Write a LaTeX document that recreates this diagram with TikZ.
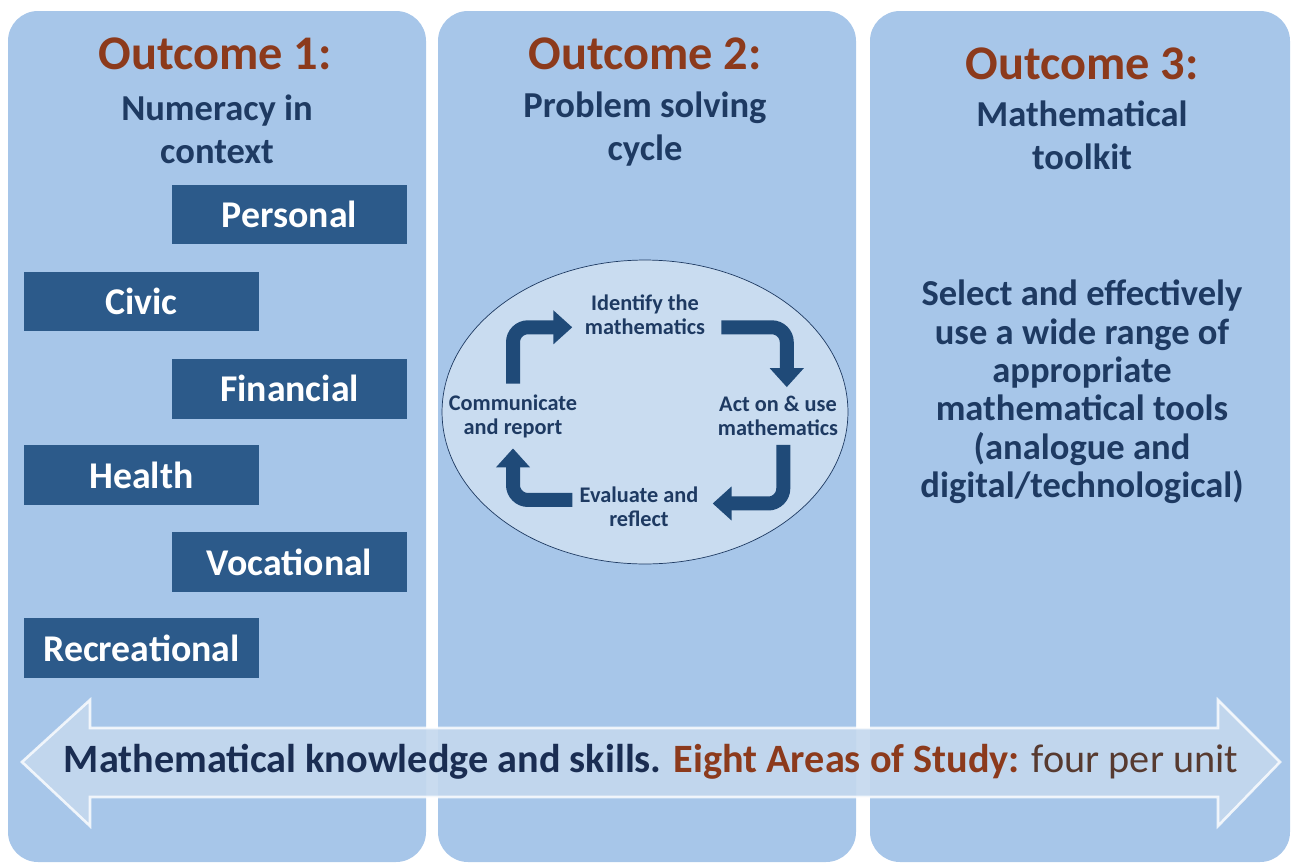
\documentclass[tikz,border=0pt]{standalone}
\usepackage{fontspec}
\setmainfont{Carlito}
\usetikzlibrary{positioning}
\usetikzlibrary{arrows.meta}
\usetikzlibrary{shapes.geometric}
\definecolor{panelblue}{HTML}{A7C6E9}
\definecolor{boxblue}{HTML}{2C5A8A}
\definecolor{titlebrown}{HTML}{8C3A1C}
\definecolor{textnavy}{HTML}{1E3A62}
\definecolor{darknavy}{HTML}{1A2D52}
\definecolor{darkbrown}{HTML}{573A30}
\definecolor{loopfill}{HTML}{C9DCF0}
\definecolor{looparrow}{HTML}{1F4A78}
\definecolor{bandfill}{HTML}{C4D8EE}

\begin{document}
\begin{tikzpicture}[
            x = 0.02cm, y = -0.02cm, % one unit is one pixel of the page
            panel/.style = {fill = panelblue, rounded corners = 0.6cm},
            outcome/.style = {text = titlebrown, font = \bfseries\fontsize{27.5}{32}\selectfont},
            subtitle/.style = {text = textnavy, align = center,
                font = \bfseries\fontsize{20.8}{24.4}\selectfont},
            context/.style = {fill = boxblue, text = white, inner sep = 0pt,
                minimum width = 4.7cm, minimum height = 1.2cm,
                font = \bfseries\fontsize{21.5}{24}\selectfont},
            stage/.style = {text = textnavy, align = center, inner sep = 1pt,
                font = \bfseries\fontsize{12.7}{13.6}\selectfont},
            cycle/.style = {draw = looparrow, line width = 0.28cm, rounded corners = 0.3cm,
                -{Triangle[width = 0.66cm, length = 0.38cm]}}
        ]
        \useasboundingbox (0,0) rectangle (1296,866);

        % three panels
        \fill[panel] (8,11) rectangle (426,862);
        \fill[panel] (438,11) rectangle (856,862);
        \fill[panel] (870,11) rectangle (1290,862);

        % titles
        \node[outcome] (O1) at (215,54) {Outcome 1:};
        \node[subtitle] (T1) at (217,129) {Numeracy in\\context};
        \node[outcome] (O2) at (645,54) {Outcome 2:};
        \node[subtitle] (T2) at (645,129) {Problem solving\\cycle};
        \node[outcome] (O3) at (1082,64) {Outcome 3:};
        \node[subtitle] (T3) at (1082,135) {Mathematical\\toolkit};

        % contexts
        \node[context] (P) at (289.5,214.5) {Personal};
        \node[context] (C) at (141.5,301.5) {Civic};
        \node[context] (F) at (289.5,388.5) {Financial};
        \node[context] (H) at (141.5,475) {Health};
        \node[context] (V) at (289.5,562) {Vocational};
        \node[context] (R) at (141.5,648) {Recreational};

        % problem solving cycle
        \node[ellipse, draw = textnavy, fill = loopfill, minimum width = 8.12cm,
            minimum height = 6.08cm] (L) at (645,412) {};
        \node[stage] (ID) at (645,315) {Identify the\\mathematics};
        \node[stage] (ACT) at (778,416) {Act on \& use\\mathematics};
        \node[stage] (EV) at (639,507) {Evaluate and\\reflect};
        \node[stage] (CO) at (513,416) {Communicate\\and report};

        \path[cycle] ([yshift=5pt]CO.north) |- ([xshift=-6pt, yshift=-7pt]ID.west);
        \path[cycle] ([xshift=8pt, yshift=-7pt]ID.east) -| ([xshift=5pt, yshift=4pt]ACT.north);
        \path[cycle] ([xshift=3pt, yshift=-4pt]ACT.south) |- ([xshift=7pt, yshift=2pt]EV.east);
        \path[cycle] ([xshift=-3pt, yshift=4pt]EV.west) -| ([yshift=-5pt]CO.south);

        % toolkit
        \node[subtitle, font = \bfseries\fontsize{20.8}{21.9}\selectfont] (K) at (1082,392)
            {Select and effectively\\use a wide range of\\appropriate\\mathematical tools\\
             (analogue and\\digital/technological)};

        % areas of study
        \fill[bandfill, fill opacity = 0.92, draw = white, draw opacity = 0.8, line width = 1.5pt]
            (22,762) -- (90,700) -- (90,728) -- (1218,728) -- (1218,700) -- (1280,762)
            -- (1218,826) -- (1218,797) -- (90,797) -- (90,826) -- cycle;
        \node[font = \fontsize{22.9}{26}\selectfont] (A) at (651,762)
            {\textcolor{darknavy}{\bfseries Mathematical knowledge and skills.}
             \textcolor{titlebrown}{\bfseries Eight Areas of Study:}
             \textcolor{darkbrown}{four per unit}};

\end{tikzpicture}
\end{document}
